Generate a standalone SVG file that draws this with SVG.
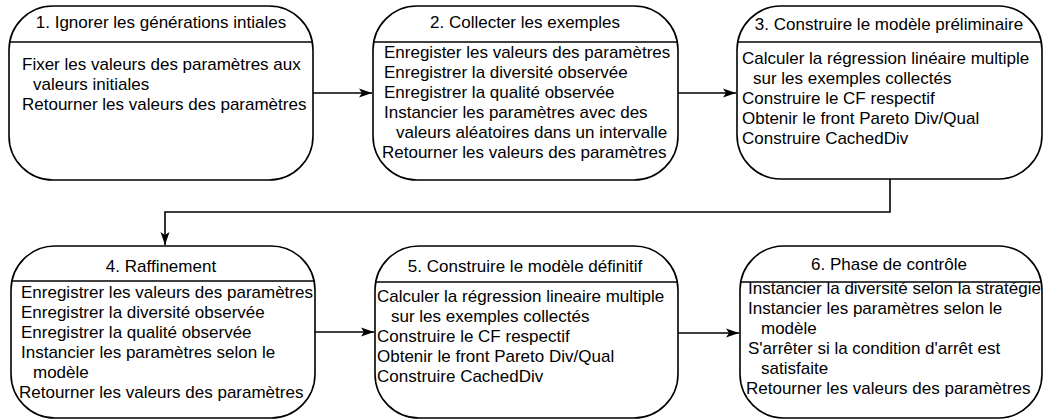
<svg xmlns="http://www.w3.org/2000/svg" width="1044" height="420" viewBox="0 0 1044 420">
<style>
.box{fill:#fff;stroke:#000;stroke-width:1.6}
.sep{stroke:#000;stroke-width:1.6}
.t{font-family:"Liberation Sans",Arial,sans-serif;font-size:17px;fill:#000}
.c{text-anchor:middle}
.edge{fill:none;stroke:#000;stroke-width:1.6}
</style>
<defs>
<marker id="arr" markerWidth="14" markerHeight="10" refX="13" refY="5" orient="auto" markerUnits="userSpaceOnUse">
<path d="M0,0.5 L13,5 L0,9.5 L3,5 z" fill="#000"/>
</marker>
</defs>
<rect width="1044" height="420" fill="#fff"/>
<g id="edges">
<path class="edge" d="M313,93 H372" marker-end="url(#arr)"/>
<path class="edge" d="M678,93 H736" marker-end="url(#arr)"/>
<path class="edge" d="M890,179 V212 H165 V245" marker-end="url(#arr)"/>
<path class="edge" d="M315,332 H374" marker-end="url(#arr)"/>
<path class="edge" d="M678,333 H739" marker-end="url(#arr)"/>
</g>
<g id="n1">
<rect class="box" x="9" y="6" width="304" height="174" rx="44" ry="44"/>
<line class="sep" x1="9" y1="42" x2="313" y2="42"/>
<text class="t c" x="161" y="28">1. Ignorer les générations intiales</text>
<text class="t" x="22" y="70">Fixer les valeurs des paramètres aux</text>
<text class="t" x="33" y="90">valeurs initiales</text>
<text class="t" x="22" y="110">Retourner les valeurs des paramètres</text>
</g>
<g id="n2">
<rect class="box" x="373" y="6" width="305" height="174" rx="44" ry="44"/>
<line class="sep" x1="373" y1="42" x2="678" y2="42"/>
<text class="t c" x="525" y="28">2. Collecter les exemples</text>
<text class="t" x="384" y="58">Enregister les valeurs des paramètres</text>
<text class="t" x="384" y="78">Enregistrer la diversité observée</text>
<text class="t" x="384" y="98">Enregistrer la qualité observée</text>
<text class="t" x="384" y="118">Instancier les paramètres avec des</text>
<text class="t" x="396" y="138">valeurs aléatoires dans un intervalle</text>
<text class="t" x="382" y="158">Retourner les valeurs des paramètres</text>
</g>
<g id="n3">
<rect class="box" x="737" y="6" width="305" height="173" rx="44" ry="44"/>
<line class="sep" x1="737" y1="42" x2="1042" y2="42"/>
<text class="t c" x="889" y="30">3. Construire le modèle préliminaire</text>
<text class="t" x="742" y="64">Calculer la régression linéaire multiple</text>
<text class="t" x="753" y="84">sur les exemples collectés</text>
<text class="t" x="742" y="104">Construire le CF respectif</text>
<text class="t" x="742" y="124">Obtenir le front Pareto Div/Qual</text>
<text class="t" x="742" y="144">Construire CachedDiv</text>
</g>
<g id="n4">
<rect class="box" x="11" y="246" width="304" height="172" rx="44" ry="44"/>
<line class="sep" x1="11" y1="281" x2="315" y2="281"/>
<text class="t c" x="161" y="272">4. Raffinement</text>
<text class="t" x="21" y="298">Enregistrer les valeurs des paramètres</text>
<text class="t" x="21" y="318">Enregistrer la diversité observée</text>
<text class="t" x="21" y="338">Enregistrer la qualité observée</text>
<text class="t" x="21" y="358">Instancier les paramètres selon le</text>
<text class="t" x="33" y="378">modèle</text>
<text class="t" x="19" y="398">Retourner les valeurs des paramètres</text>
</g>
<g id="n5">
<rect class="box" x="375" y="246" width="303" height="172" rx="44" ry="44"/>
<line class="sep" x1="375" y1="282" x2="678" y2="282"/>
<text class="t c" x="525" y="272">5. Construire le modèle définitif</text>
<text class="t" x="377" y="302">Calculer la régression lineaire multiple</text>
<text class="t" x="391" y="322">sur les exemples collectés</text>
<text class="t" x="377" y="342">Construire le CF respectif</text>
<text class="t" x="377" y="362">Obtenir le front Pareto Div/Qual</text>
<text class="t" x="377" y="382">Construire CachedDiv</text>
</g>
<g id="n6">
<rect class="box" x="740" y="246" width="302" height="172" rx="44" ry="44"/>
<line class="sep" x1="740" y1="282" x2="1042" y2="282"/>
<text class="t c" x="889" y="270">6. Phase de contrôle</text>
<text class="t" x="748" y="294">Instancier la diversité selon la stratégie</text>
<text class="t" x="748" y="314">Instancier les paramètres selon le</text>
<text class="t" x="761" y="334">modèle</text>
<text class="t" x="748" y="354">S'arrêter si la condition d'arrêt est</text>
<text class="t" x="761" y="374">satisfaite</text>
<text class="t" x="746" y="394">Retourner les valeurs des paramètres</text>
</g>
</svg>
